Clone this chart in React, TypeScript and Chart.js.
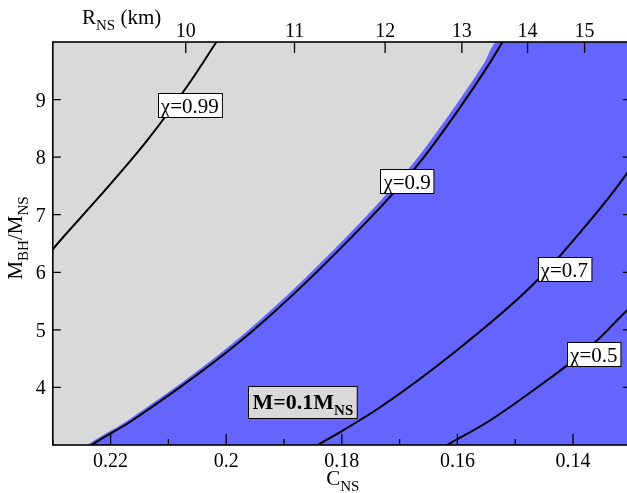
import React, { useEffect, useRef } from "react";
import { Chart, registerables } from "chart.js";

Chart.register(...registerables);

// ---- data ----
const xTicks = [0.22, 0.2, 0.18, 0.16, 0.14];
const xTickLabels = ["0.22", "0.2", "0.18", "0.16", "0.14"];
const xMinorTicks = [0.23, 0.21, 0.19, 0.17, 0.15, 0.13];
const yTicks = [4, 5, 6, 7, 8, 9];
const yTickLabels = ["4", "5", "6", "7", "8", "9"];
const rTicks = [10, 11, 12, 13, 14, 15];
const rTickLabels = ["10", "11", "12", "13", "14", "15"];
const nsMassKm = 2.07; // GM_NS/c^2 in km, C = nsMassKm / R

const chi099C = [0.2321, 0.23, 0.2218, 0.2136, 0.206, 0.2017, 0.2001];
const chi099Q = [6.13, 6.4, 7.33, 8.3, 9.34, 10.0, 10.24];

const chi09C = [0.227, 0.2237, 0.2162, 0.1958, 0.1754, 0.1662, 0.1595, 0.1543, 0.1522, 0.1508];
const chi09Q = [2.7, 2.97, 3.43, 4.95, 6.91, 7.95, 8.87, 9.65, 10.0, 10.24];

const chi07C = [0.1887, 0.1842, 0.1797, 0.1733, 0.1604, 0.1474, 0.1399, 0.1301, 0.1284];
const chi07Q = [2.74, 3.0, 3.26, 3.66, 4.62, 5.74, 6.56, 7.8, 8.09];

const chi05C = [0.165, 0.1618, 0.1543, 0.1444, 0.1416, 0.1358, 0.1306, 0.1284];
const chi05Q = [2.82, 3.0, 3.43, 4.13, 4.34, 4.82, 5.34, 5.52];

const blueEdgeC = [0.2278, 0.2245, 0.217, 0.1967, 0.1764, 0.1672, 0.1605, 0.1553, 0.1532, 0.12];
const blueEdgeQ = [2.7, 2.97, 3.43, 4.95, 6.91, 7.95, 8.87, 9.65, 10.0, 10.0];

const curveLabels = ["χ=0.99", "χ=0.9", "χ=0.7", "χ=0.5"];
const curveLabelC = [0.2063, 0.1687, 0.1415, 0.1364];
const curveLabelQ = [8.91, 7.59, 6.06, 4.58];
const massLabelC = 0.1868;
const massLabelQ = 3.75;

const GREY = "#d9d9d9";
const BLUE = "#6464ff";
const SERIF = '"Liberation Serif", "Times New Roman", serif';

const pts = (cs: number[], qs: number[]) => cs.map((c, i) => ({ x: c, y: qs[i] }));

type Part = { t: string; size: number; dy?: number; bold?: boolean };

function partsWidth(ctx: CanvasRenderingContext2D, parts: Part[]) {
  let w = 0;
  for (const p of parts) {
    ctx.font = `${p.bold ? "bold " : ""}${p.size}px ${SERIF}`;
    w += ctx.measureText(p.t).width;
  }
  return w;
}

function drawParts(ctx: CanvasRenderingContext2D, x: number, y: number, parts: Part[]) {
  let cx = x;
  ctx.textAlign = "left";
  ctx.textBaseline = "alphabetic";
  for (const p of parts) {
    ctx.font = `${p.bold ? "bold " : ""}${p.size}px ${SERIF}`;
    ctx.fillText(p.t, cx, y + (p.dy || 0));
    cx += ctx.measureText(p.t).width;
  }
}

const framePlugin = {
  id: "frame",
  beforeDatasetsDraw(chart: any) {
    const { ctx, chartArea: a } = chart;
    ctx.save();
    ctx.fillStyle = GREY;
    ctx.fillRect(a.left, a.top, a.right - a.left, a.bottom - a.top);
    ctx.restore();
  },
  afterDatasetsDraw(chart: any) {
    const { ctx, chartArea: a } = chart;
    const x = chart.scales.x;
    const y = chart.scales.y;
    ctx.save();
    ctx.strokeStyle = "#000";
    ctx.fillStyle = "#000";
    ctx.lineWidth = 1.3;
    ctx.beginPath();
    xTicks.forEach((v) => {
      const px = x.getPixelForValue(v);
      ctx.moveTo(px, a.bottom);
      ctx.lineTo(px, a.bottom - 11);
    });
    xMinorTicks.forEach((v) => {
      const px = x.getPixelForValue(v);
      ctx.moveTo(px, a.bottom);
      ctx.lineTo(px, a.bottom - 6);
    });
    rTicks.forEach((r) => {
      const px = x.getPixelForValue(nsMassKm / r);
      ctx.moveTo(px, a.top);
      ctx.lineTo(px, a.top + 11);
    });
    yTicks.forEach((v) => {
      const py = y.getPixelForValue(v);
      ctx.moveTo(a.left, py);
      ctx.lineTo(a.left + 8, py);
      ctx.moveTo(a.right, py);
      ctx.lineTo(a.right - 8, py);
    });
    ctx.stroke();
    ctx.lineWidth = 1.6;
    ctx.strokeRect(a.left, a.top, a.right - a.left, a.bottom - a.top);

    // tick labels
    ctx.font = `20px ${SERIF}`;
    ctx.textAlign = "center";
    ctx.textBaseline = "alphabetic";
    xTicks.forEach((v, i) => {
      ctx.fillText(xTickLabels[i], x.getPixelForValue(v), a.bottom + 22);
    });
    rTicks.forEach((r, i) => {
      ctx.fillText(rTickLabels[i], x.getPixelForValue(nsMassKm / r), a.top - 5);
    });
    ctx.textAlign = "right";
    yTicks.forEach((v, i) => {
      ctx.fillText(yTickLabels[i], a.left - 7, y.getPixelForValue(v) + 7);
    });

    // axis titles
    drawParts(ctx, 82, 24, [
      { t: "R", size: 21 },
      { t: "NS", size: 15, dy: 6 },
      { t: " (km)", size: 21 },
    ]);
    const cParts: Part[] = [
      { t: "C", size: 21 },
      { t: "NS", size: 15, dy: 6 },
    ];
    const cw = partsWidth(ctx, cParts);
    drawParts(ctx, x.getPixelForValue(0.18) - cw / 2 + 1, 485, cParts);

    const mParts: Part[] = [
      { t: "M", size: 21 },
      { t: "BH", size: 15, dy: 6 },
      { t: "/M", size: 21 },
      { t: "NS", size: 15, dy: 6 },
    ];
    const mw = partsWidth(ctx, mParts);
    ctx.save();
    ctx.translate(22, 238);
    ctx.rotate(-Math.PI / 2);
    drawParts(ctx, -mw / 2, 0, mParts);
    ctx.restore();

    // curve labels
    ctx.lineWidth = 1;
    curveLabels.forEach((t, i) => {
      const cx = x.getPixelForValue(curveLabelC[i]);
      const cy = y.getPixelForValue(curveLabelQ[i]);
      ctx.font = `21px ${SERIF}`;
      const w = ctx.measureText(t).width + 6;
      const h = 24;
      const bx = Math.round(cx - w / 2) + 0.5;
      const by = Math.round(cy - h / 2) + 0.5;
      ctx.fillStyle = "#fff";
      ctx.fillRect(bx, by, w, h);
      ctx.strokeStyle = "#000";
      ctx.strokeRect(bx, by, w, h);
      ctx.fillStyle = "#000";
      ctx.textAlign = "center";
      ctx.textBaseline = "alphabetic";
      ctx.fillText(t, cx, by + h - 5);
    });

    // mass label
    const massParts: Part[] = [
      { t: "M=0.1M", size: 22, bold: true },
      { t: "NS", size: 15, bold: true, dy: 6 },
    ];
    const mx = x.getPixelForValue(massLabelC);
    const my = y.getPixelForValue(massLabelQ);
    const ww = partsWidth(ctx, massParts) + 8;
    const hh = 32;
    const bx = Math.round(mx - ww / 2) + 0.5;
    const by = Math.round(my - hh / 2) + 0.5;
    ctx.fillStyle = GREY;
    ctx.fillRect(bx, by, ww, hh);
    ctx.strokeStyle = "#000";
    ctx.strokeRect(bx, by, ww, hh);
    ctx.fillStyle = "#000";
    drawParts(ctx, bx + 4, by + 22, massParts);

    ctx.restore();
  },
};

export default function App() {
  const ref = useRef<HTMLCanvasElement | null>(null);
  useEffect(() => {
    if (!ref.current) return;
    const line = (cs: number[], qs: number[]) => ({
      data: pts(cs, qs),
      borderColor: "#000",
      borderWidth: 2,
      pointRadius: 0,
      fill: false,
      cubicInterpolationMode: "monotone" as const,
    });
    const chart = new Chart(ref.current, {
      type: "line",
      data: {
        datasets: [
          line(chi099C, chi099Q),
          line(chi09C, chi09Q),
          line(chi07C, chi07Q),
          line(chi05C, chi05Q),
          {
            data: pts(blueEdgeC, blueEdgeQ),
            borderWidth: 0,
            borderColor: BLUE,
            backgroundColor: BLUE,
            pointRadius: 0,
            fill: "start",
            cubicInterpolationMode: "monotone",
          } as any,
        ],
      },
      options: {
        animation: false,
        responsive: false,
        devicePixelRatio: 1,
        layout: { padding: { left: 52.8, top: 42, right: 9.2, bottom: 48 } },
        plugins: { legend: { display: false }, tooltip: { enabled: false } },
        events: [],
        scales: {
          x: { type: "linear", min: 0.13, max: 0.23, reverse: true, display: false },
          y: { type: "linear", min: 3, max: 10, display: false },
        },
      },
      plugins: [framePlugin],
    });
    return () => chart.destroy();
  }, []);
  return (
    <div style={{ position: "fixed", left: 0, top: 0, width: 627, height: 493, overflow: "hidden", background: "#fff" }}>
      <canvas ref={ref} width={640} height={493} style={{ display: "block" }} />
    </div>
  );
}
